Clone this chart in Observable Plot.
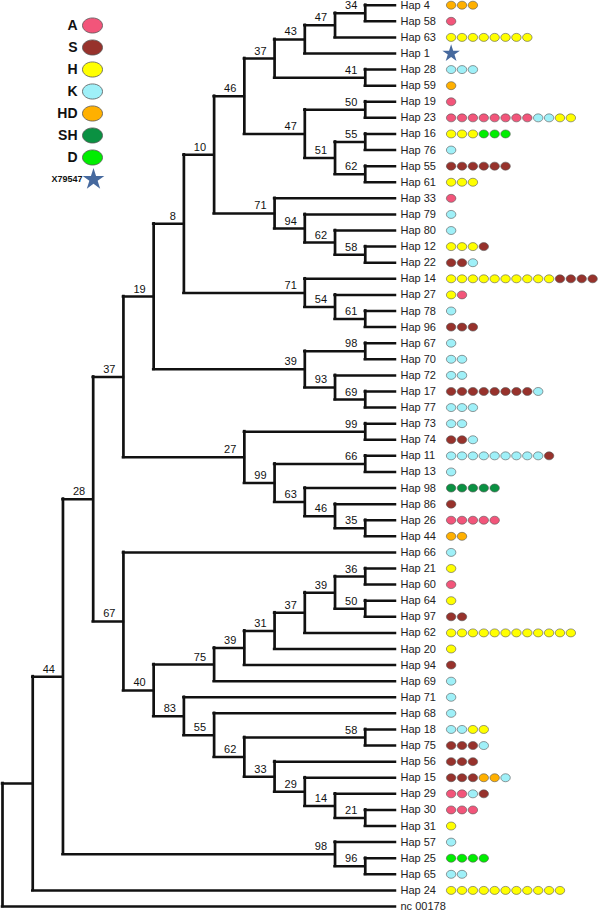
<!DOCTYPE html>
<html><head><meta charset="utf-8">
<script src="https://cdn.jsdelivr.net/npm/d3@7"></script>
<script src="https://cdn.jsdelivr.net/npm/@observablehq/plot@0.6"></script>
<style>
body{margin:0;background:#fff;}
#wrap{position:relative;width:600px;height:911px;overflow:hidden;}
#legend{position:absolute;left:0;top:0;}
#tree{position:absolute;left:0;top:0;}
</style></head><body>
<div id="wrap"><div id="tree"></div><div id="legend"></div></div>
<script>
// ---- DATA ----
// Tree topology with bootstrap values (Newick)
const treeNewick = "(((((((((((((Hap 4,Hap 58)34,Hap 63)47,Hap 1)43,(Hap 28,Hap 59)41)37," +
  "((Hap 19,Hap 23)50,((Hap 16,Hap 76)55,(Hap 55,Hap 61)62)51)47)46," +
  "(Hap 33,(Hap 79,(Hap 80,(Hap 12,Hap 22)58)62)94)71)10," +
  "(Hap 14,(Hap 27,(Hap 78,Hap 96)61)54)71)8," +
  "((Hap 67,Hap 70)98,(Hap 72,(Hap 17,Hap 77)69)93)39)19," +
  "((Hap 73,Hap 74)99,((Hap 11,Hap 13)66,(Hap 98,(Hap 86,(Hap 26,Hap 44)35)46)63)99)27)37," +
  "(Hap 66,(((((((Hap 21,Hap 60)36,(Hap 64,Hap 97)50)39,Hap 62)37,Hap 20)31,Hap 94)39,Hap 69)75," +
  "(Hap 71,(Hap 68,((Hap 18,Hap 75)58,(Hap 56,(Hap 15,(Hap 29,(Hap 30,Hap 31)21)14)29)33)62)55)83)40)67)28," +
  "(Hap 57,(Hap 25,Hap 65)96)98)44,Hap 24),nc 00178);";

const groups = ["A", "S", "H", "K", "HD", "SH", "D"];
const groupColors = ["#f2557a", "#97322c", "#ffff00", "#9ff0f8", "#ffb000", "#0a9142", "#00ee00"];
const outgroupLabel = "X79547";
const outgroupLeaf = "Hap 1";
const starColor = "#46699e";

// members of each haplotype, one code per isolate
const haplotypeMembers = [
  ["Hap 4", "HD HD HD"], ["Hap 58", "A"], ["Hap 63", "H H H H H H H H"], ["Hap 1", ""],
  ["Hap 28", "K K K"], ["Hap 59", "HD"], ["Hap 19", "A"], ["Hap 23", "A A A A A A A A K K H H"],
  ["Hap 16", "H H H D D D"], ["Hap 76", "K"], ["Hap 55", "S S S S S S"], ["Hap 61", "H H H"],
  ["Hap 33", "A"], ["Hap 79", "K"], ["Hap 80", "K"], ["Hap 12", "H H H S"], ["Hap 22", "S S K"],
  ["Hap 14", "H H H H H H H H H H S S S S"], ["Hap 27", "H A"], ["Hap 78", "K"], ["Hap 96", "S S S"],
  ["Hap 67", "K"], ["Hap 70", "K K"], ["Hap 72", "K K"], ["Hap 17", "S S S S S S S S K"],
  ["Hap 77", "K K K"], ["Hap 73", "K K"], ["Hap 74", "S S K"], ["Hap 11", "K K K K K K K K K S"],
  ["Hap 13", "K"], ["Hap 98", "SH SH SH SH SH"], ["Hap 86", "S"], ["Hap 26", "A A A A A"],
  ["Hap 44", "HD HD"], ["Hap 66", "K"], ["Hap 21", "H"], ["Hap 60", "A"], ["Hap 64", "H"],
  ["Hap 97", "S S"], ["Hap 62", "H H H H H H H H H H H H"], ["Hap 20", "H"], ["Hap 94", "S"],
  ["Hap 69", "K"], ["Hap 71", "K"], ["Hap 68", "K"], ["Hap 18", "K K H H"], ["Hap 75", "S S S K"],
  ["Hap 56", "S S S"], ["Hap 15", "S S S HD HD K"], ["Hap 29", "A A K S"], ["Hap 30", "A A A"],
  ["Hap 31", "H"], ["Hap 57", "K"], ["Hap 25", "D D D D"], ["Hap 65", "K K"],
  ["Hap 24", "H H H H H H H H H H H"], ["nc 00178", ""]
];

// ---- TREE PARSING / LAYOUT ----
function parseNewick(str) {
  const s = str.replace(/\s*([(),;])\s*/g, "$1");
  let i = 0;
  function node() {
    const n = {children: []};
    if (s[i] === "(") {
      i++;
      n.children.push(node());
      while (s[i] === ",") { i++; n.children.push(node()); }
      i++;
    }
    let name = "";
    while (i < s.length && !"(),;".includes(s[i])) name += s[i++];
    n.name = name.trim();
    return n;
  }
  return node();
}
const root = parseNewick(treeNewick);
const leaves = [], internals = [];
function layout(n) {
  if (!n.children.length) { n.height = 0; n.y = leaves.length; leaves.push(n); return; }
  n.children.forEach(layout);
  n.height = d3.max(n.children, c => c.height) + 1;
  n.y = (n.children[0].y + n.children[n.children.length - 1].y) / 2;
  internals.push(n);
}
layout(root);
const H = root.height;
function setX(n) { n.x = H - n.height; n.children.forEach(setX); }
setX(root);

const vLinks = internals.map(n => ({x: n.x, y1: n.children[0].y, y2: n.children[n.children.length - 1].y}));
const hLinks = internals.flatMap(n => n.children.map(c => ({y: c.y, x1: n.x, x2: c.x})));
const boot = internals.filter(n => n.name !== "");

const memberMap = new Map(haplotypeMembers);
const tipPad = 1.84, dotStep = 0.36;   // in tree-depth units beyond the tips
const dots = leaves.flatMap(l => (memberMap.get(l.name) || "").split(" ").filter(d => d)
  .map((g, k) => ({x: H + tipPad + k * dotStep, y: l.y, group: g})));
const starLeaf = leaves.filter(l => l.name === outgroupLeaf).map(l => ({x: H + tipPad, y: l.y}));

function makeEllipse(ax, ay) {
  return {draw(ctx, size) {
    const r = Math.sqrt(size / Math.PI), rx = r * ax, ry = r * ay, k = 0.5523;
    ctx.moveTo(rx, 0);
    ctx.bezierCurveTo(rx, ry * k, rx * k, ry, 0, ry);
    ctx.bezierCurveTo(-rx * k, ry, -rx, ry * k, -rx, 0);
    ctx.bezierCurveTo(-rx, -ry * k, -rx * k, -ry, 0, -ry);
    ctx.bezierCurveTo(rx * k, -ry, rx, -ry * k, rx, 0);
    ctx.closePath();
  }};
}
const font = "'Liberation Sans', Arial, sans-serif";

const tree = Plot.plot({
  width: 600, height: 911, margin: 0,
  style: {fontFamily: font, background: "transparent"},
  x: {domain: [0, H], range: [2, 395], axis: null},
  y: {domain: [0, leaves.length - 1], range: [4.7, 906], axis: null},
  color: {domain: groups, range: groupColors},
  marks: [
    Plot.ruleX(vLinks, {x: "x", y1: "y1", y2: "y2", stroke: "#111", strokeWidth: 2.7, strokeLinecap: "square"}),
    Plot.ruleY(hLinks, {y: "y", x1: "x1", x2: "x2", stroke: "#111", strokeWidth: 2.5, strokeLinecap: "square"}),
    Plot.text(boot, {x: "x", y: "y", text: "name", textAnchor: "end", dx: -8, dy: -7.5, fontSize: 11, fill: "#111"}),
    Plot.text(leaves, {x: "x", y: "y", text: "name", textAnchor: "start", dx: 5, fontSize: 11, fill: "#222"}),
    Plot.dot(dots, {x: "x", y: "y", fill: "group", r: 4.35, symbol: makeEllipse(1.09, 0.92), stroke: "#555", strokeWidth: 0.6}),
    Plot.dot(starLeaf, {x: "x", y: "y", symbol: "star", r: 5.5, fill: starColor, stroke: "none"})
  ]
});
document.getElementById("tree").append(tree);

const legendKeys = [...groups, outgroupLabel];
const legend = Plot.plot({
  width: 115, height: 205, margin: 0,
  style: {fontFamily: font, background: "transparent"},
  y: {type: "point", domain: legendKeys, range: [12, 192], axis: null},
  color: {domain: groups, range: groupColors},
  marks: [
    Plot.text(groups, {y: d => d, text: d => d, frameAnchor: "left", dx: 77, textAnchor: "end", fontSize: 14, fontWeight: "bold", fill: "#111"}),
    Plot.dot(groups, {y: d => d, fill: d => d, frameAnchor: "left", dx: 92, r: 8.7, symbol: makeEllipse(1.15, 0.87), stroke: "#555", strokeWidth: 0.8}),
    Plot.text([outgroupLabel], {y: d => d, text: d => d, frameAnchor: "left", dx: 82, textAnchor: "end", fontSize: 9, fontWeight: "bold", fill: "#111"}),
    Plot.dot([outgroupLabel], {y: d => d, frameAnchor: "left", dx: 93, symbol: "star", r: 6.8, fill: starColor, stroke: "none"})
  ]
});
document.getElementById("legend").append(legend);
</script>
</body></html>
